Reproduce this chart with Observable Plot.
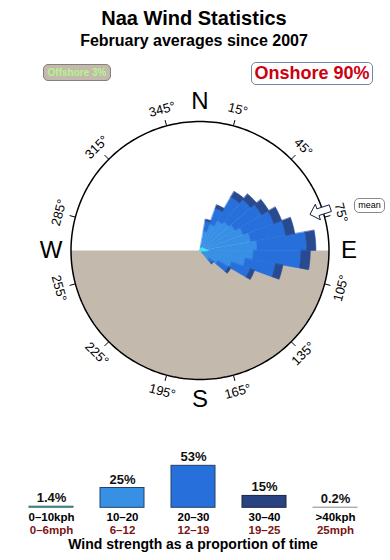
<!DOCTYPE html>
<html>
<head>
<meta charset="utf-8">
<script src="https://cdn.jsdelivr.net/npm/d3@7"></script>
<script src="https://cdn.jsdelivr.net/npm/@observablehq/plot@0.6"></script>
<style>
  html, body { margin: 0; padding: 0; background: #fff; }
  #page { position: relative; width: 390px; height: 560px; overflow: hidden; font-family: "Liberation Sans", Arial, sans-serif; }
  .abs { position: absolute; white-space: nowrap; }
  #title { left: 0; width: 388px; text-align: center; top: 8px; font-size: 20px; line-height: 20px; font-weight: bold; color: #000; }
  #subtitle { left: 0; width: 388px; text-align: center; top: 32.5px; font-size: 16px; line-height: 16px; font-weight: bold; color: #000; }
  #offshore { left: 43px; top: 64px; width: 66px; height: 15px; background: #c4b9ad; border: 1px solid #85807a; border-radius: 5px; color: #b4f58e; font-size: 10px; font-weight: bold; line-height: 15px; text-align: center; z-index: 5; }
  #onshore { left: 251px; top: 62px; width: 120px; height: 21px; background: #fff; border: 1px solid #7088a8; border-radius: 5px; color: #cc0010; font-size: 18px; font-weight: bold; line-height: 21px; text-align: center; z-index: 5; }
  #mean { left: 354px; top: 198px; width: 29px; height: 13px; background: #fff; border: 1px solid #888; border-radius: 5px; color: #000; font-size: 9px; line-height: 13px; text-align: center; z-index: 5; }
  #compass { position: absolute; left: 0; top: 55px; }
  #bars { position: absolute; left: 0; top: 440px; }
  #caption { left: 0; width: 386px; text-align: center; top: 536.5px; font-size: 14px; line-height: 14px; font-weight: bold; color: #000; }
</style>
</head>
<body>
<div id="page">
  <div id="compass"></div>
  <div id="bars"></div>
  <div class="abs" id="title">Naa Wind Statistics</div>
  <div class="abs" id="subtitle">February averages since 2007</div>
  <div class="abs" id="offshore">Offshore 3%</div>
  <div class="abs" id="onshore">Onshore 90%</div>
  <div class="abs" id="mean">mean</div>
  <div class="abs" id="caption">Wind strength as a proportion of time</div>
</div>
<script>
// ---------- DATA ----------
// wind rose: sector centre bearings (degrees, direction wind comes from)
const directions = [15, 25, 35, 45, 55, 65, 75, 85, 95, 105, 115, 125, 135];
// % of time per sector, by speed band
const calm     = [0.3, 0.4, 0.5, 0.5, 0.5, 0.6, 0.7, 1.0, 0.9, 0.6, 0.4, 0.3, 0.2]; // 0-10 kph
const light    = [1.8, 2.6, 3.2, 3.5, 3.8, 4.3, 4.8, 5.1, 4.8, 4.3, 3.2, 1.9, 1.1]; // 10-20 kph
const moderate = [1.1, 1.8, 2.9, 3.1, 3.3, 3.5, 3.8, 5.3, 5.1, 3.3, 2.1, 1.3, 0.5]; // 20-30 kph
const strong   = [0.2, 0.4, 0.7, 0.8, 0.9, 0.9, 1.0, 1.0, 1.0, 0.8, 0.5, 0.3, 0.1]; // 30-40 kph
const roseColors = ["#4ae0f0", "#3790e5", "#2770dc", "#284a90"];
const meanDirection = 72;

// compass
const compassMax = 13.8;        // outer ring value (% of time)
const tickBearings = [15, 45, 75, 105, 135, 165, 195, 225, 255, 285, 315, 345];
const cardinals = ["N", "E", "S", "W"];
const cardinalBearings = [0, 90, 180, 270];

// bar chart
const speedBands = ["0–10kph", "10–20", "20–30", "30–40", ">40kph"];
const mphBands = ["0–6mph", "6–12", "12–19", "19–25", "25mph"];
const shares = [1.4, 25, 53, 15, 0.2];
const shareLabels = ["1.4%", "25%", "53%", "15%", "0.2%"];
const barFills = ["#45d8e8", "#3890e4", "#2770dc", "#28437f", "#bdbdbd"];
const barStrokes = ["#3d7878", "#25406a", "#25406a", "#1a2440", "#9a9a9a"];

// ---------- BUILD ----------
const rad = Math.PI / 180;
const pol = (r, b) => ({x: r * Math.sin(b * rad), y: r * Math.cos(b * rad)});
const k = compassMax / 129; // data units per px of radius

// rose polygons
const bands = [calm, light, moderate, strong];
const rosePolys = bands.map(() => []);
directions.forEach((d, i) => {
  let r0 = 0;
  bands.forEach((band, j) => {
    const r1 = r0 + band[i];
    const id = d + "-" + j;
    for (let a = d - 5; a <= d + 5.001; a += 2.5) rosePolys[j].push({...pol(r1, a), id});
    for (let a = d + 5; a >= d - 5.001; a -= 2.5) rosePolys[j].push({...pol(r0, a), id});
    r0 = r1;
  });
});

// land (lower half disc)
const land = d3.range(90, 270.001, 2).map(a => pol(compassMax, a));
const ring = d3.range(0, 360, 1.5).map(a => pol(compassMax, a));
const ticks = tickBearings.map(b => {
  const p1 = pol(compassMax, b), p2 = pol(compassMax + 6 * k, b);
  return {x1: p1.x, y1: p1.y, x2: p2.x, y2: p2.y};
});
const tickLabels = tickBearings.map(b => ({...pol(compassMax + 17 * k, b), text: b + "°", rotate: (b > 90 && b < 270) ? b - 180 : b}));
const cardinalLabels = cardinals.map((c, i) => ({...pol(compassMax + 20 * k, cardinalBearings[i]), text: c}));

// mean arrow (pointing inward)
const arrowShape = [[116, 0], [124, 8], [124, 3.5], [137, 3.5], [137, -3.5], [124, -3.5], [124, -8]];
const ab = meanDirection * rad;
const arrow = arrowShape.map(([u, v]) => ({
  x: k * (u * Math.sin(ab) + v * Math.cos(ab)),
  y: k * (u * Math.cos(ab) - v * Math.sin(ab))
}));

const cxp = 199.5, cyp = 195, R = 129;
const font = "Liberation Sans, Arial, sans-serif";
const compass = Plot.plot({
  width: 390, height: 375, margin: 0,
  style: {background: "transparent", overflow: "visible"},
  x: {domain: [-compassMax, compassMax], range: [cxp - R, cxp + R], axis: null},
  y: {domain: [-compassMax, compassMax], range: [cyp + R, cyp - R], axis: null},
  marks: [
    Plot.line(land, {x: "x", y: "y", fill: "#c4b9ad", stroke: "none", curve: "linear-closed"}),
    ...rosePolys.map((poly, j) => Plot.line(poly, {x: "x", y: "y", z: "id", fill: roseColors[j], stroke: roseColors[j], strokeWidth: 0.6, curve: "linear-closed"})),
    Plot.line(ring, {x: "x", y: "y", stroke: "#000", strokeWidth: 1.5, curve: "linear-closed"}),
    Plot.link(ticks, {x1: "x1", y1: "y1", x2: "x2", y2: "y2", stroke: "#000", strokeWidth: 1}),
    Plot.text(tickLabels, {x: "x", y: "y", text: "text", rotate: "rotate", fontSize: 13, fill: "#000", fontFamily: font}),
    Plot.text(cardinalLabels, {x: "x", y: "y", text: "text", fontSize: 24, fill: "#000", fontFamily: font}),
    Plot.line(arrow, {x: "x", y: "y", fill: "#fff", stroke: "#102040", strokeWidth: 1, curve: "linear-closed"})
  ]
});
document.getElementById("compass").appendChild(compass);

// bar chart
const barData = speedBands.map((s, i) => ({band: s, mph: mphBands[i], share: shares[i], label: shareLabels[i], fill: barFills[i], stroke: barStrokes[i]}));
const bars = Plot.plot({
  width: 390, height: 100, margin: 0,
  style: {background: "transparent", overflow: "visible"},
  x: {type: "band", domain: speedBands, range: [28.75, 357.75], paddingInner: 0.374, paddingOuter: 0, axis: null},
  y: {domain: [0, 100], range: [67.3, 67.3 - 79.2], axis: null},
  marks: [
    Plot.barY(barData, {x: "band", y: "share", fill: "fill", stroke: "stroke", strokeWidth: 1}),
    Plot.text(barData, {x: "band", y: "share", text: "label", dy: -4.5, lineAnchor: "bottom", fontSize: 13, fontWeight: "bold", fill: "#111", fontFamily: font}),
    Plot.text(barData, {x: "band", y: 0, text: "band", dy: 13.2, lineAnchor: "bottom", fontSize: 11.5, fontWeight: "bold", fill: "#000", fontFamily: font}),
    Plot.text(barData, {x: "band", y: 0, text: "mph", dy: 26.2, lineAnchor: "bottom", fontSize: 11.5, fontWeight: "bold", fill: "#7b1515", fontFamily: font})
  ]
});
document.getElementById("bars").appendChild(bars);
</script>
</body>
</html>
